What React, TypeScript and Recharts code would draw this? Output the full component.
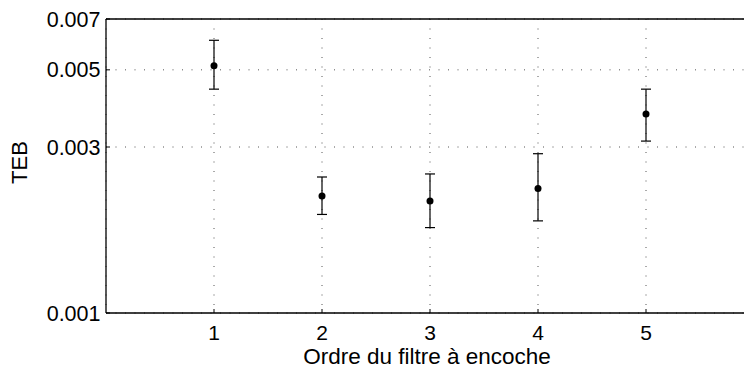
import React from 'react';
import {
  ScatterChart,
  Scatter,
  XAxis,
  YAxis,
  CartesianGrid,
  ErrorBar,
  ReferenceLine,
} from 'recharts';

const orders = [1, 2, 3, 4, 5];
const teb = [0.00514, 0.00217, 0.0021, 0.00228, 0.00373];
const tebLow = [0.0044, 0.00192, 0.00176, 0.00184, 0.00312];
const tebHigh = [0.00608, 0.00246, 0.00251, 0.00287, 0.0044];
const xTicks = [1, 2, 3, 4, 5];
const yTicks = [0.001, 0.003, 0.005, 0.007];

const data = orders.map((o, i) => ({
  order: o,
  teb: teb[i],
  err: [teb[i] - tebLow[i], tebHigh[i] - teb[i]],
}));

const FONT = '"Liberation Sans", Arial, Helvetica, sans-serif';

const Dot = (props: any) => <circle cx={props.cx} cy={props.cy} r={3.5} fill="#000" />;

const YLabel = (props: any) => {
  const vb = props.viewBox || { x: 0, y: 19, width: 106, height: 294 };
  const cx = vb.x + 27;
  const cy = vb.y + vb.height / 2 - 3.5;
  return (
    <text
      x={cx}
      y={cy}
      transform={`rotate(-90 ${cx} ${cy})`}
      textAnchor="middle"
      fontFamily={FONT}
      fontSize={22}
      fill="#000"
    >
      TEB
    </text>
  );
};

const XLabel = (props: any) => {
  const vb = props.viewBox || { x: 106, y: 313, width: 648, height: 58 };
  return (
    <text
      x={vb.x + vb.width / 2 - 3}
      y={vb.y + 51}
      textAnchor="middle"
      fontFamily={FONT}
      fontSize={22.5}
      fill="#000"
    >
      Ordre du filtre à encoche
    </text>
  );
};

export default function App() {
  return (
    <div
      style={{
        position: 'absolute',
        left: 0,
        top: 0,
        width: 744,
        height: 371,
        overflow: 'hidden',
        background: '#fff',
      }}
    >
      <ScatterChart
        width={754}
        height={371}
        margin={{ top: 19, right: 0, bottom: 0, left: 0 }}
        style={{ fontFamily: FONT }}
      >
        <CartesianGrid
          stroke="#555"
          strokeDasharray="1 8.5"
          strokeWidth={1}
        />
        <XAxis
          type="number"
          dataKey="order"
          domain={[0, 6]}
          ticks={xTicks}
          height={58}
          axisLine={{ stroke: '#000', strokeWidth: 1.3 }}
          tickLine={{ stroke: '#000', strokeWidth: 1 }}
          tickSize={-4}
          tickMargin={16}
          tick={{ fill: '#000', fontSize: 21, fontFamily: FONT }}
          label={<XLabel />}
          allowDataOverflow
        />
        <YAxis
          type="number"
          dataKey="teb"
          scale="log"
          domain={[0.001, 0.007]}
          ticks={yTicks}
          width={106}
          axisLine={{ stroke: '#000', strokeWidth: 1.3 }}
          tickLine={{ stroke: '#000', strokeWidth: 1 }}
          tickSize={-4}
          tickMargin={9.5}
          tick={{ fill: '#000', fontSize: 21.5, fontFamily: FONT }}
          tickFormatter={(v: number) => String(v)}
          label={<YLabel />}
          allowDataOverflow
        />
        <ReferenceLine y={0.007} stroke="#000" strokeWidth={1.3} />
        <Scatter data={data} shape={<Dot />} isAnimationActive={false}>
          <ErrorBar
            dataKey="err"
            direction="y"
            width={5}
            stroke="#000"
            strokeWidth={1.2}
            isAnimationActive={false}
          />
        </Scatter>
      </ScatterChart>
    </div>
  );
}
